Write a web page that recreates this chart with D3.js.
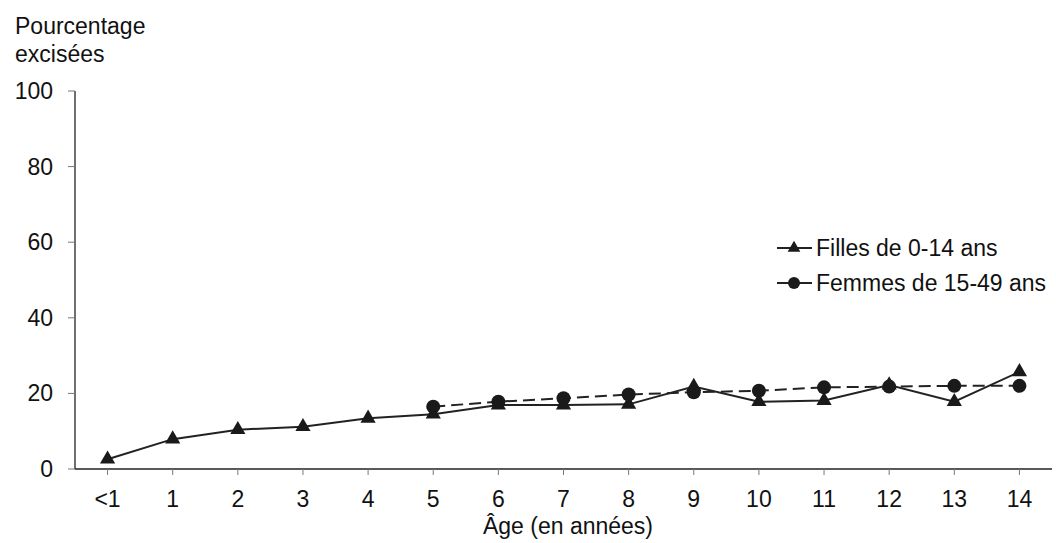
<!DOCTYPE html>
<html>
<head>
<meta charset="utf-8">
<script src="https://cdn.jsdelivr.net/npm/d3@7"></script>
<style>
  body { margin: 0; background: #fff; }
  text { font-family: "Liberation Sans", Arial, sans-serif; fill: #111; }
</style>
</head>
<body>
<svg id="chart" width="1056" height="543"></svg>
<script>
// data
var ages = ["<1", "1", "2", "3", "4", "5", "6", "7", "8", "9", "10", "11", "12", "13", "14"];
var filles = [2.6, 7.9, 10.4, 11.2, 13.4, 14.5, 16.9, 16.9, 17.1, 21.8, 17.8, 18.1, 22.2, 17.8, 25.7];
var femmes = [null, null, null, null, null, 16.5, 17.8, 18.7, 19.7, 20.3, 20.7, 21.6, 21.8, 22.0, 22.0];
var yTicks = [0, 20, 40, 60, 80, 100];

var fs = 23;
var svg = d3.select("#chart");

var x = d3.scaleBand().domain(ages).range([75, 1052]);
var y = d3.scaleLinear().domain([0, 100]).range([469, 91]);

function cx(d, i) { return x(ages[i]) + x.bandwidth() / 2; }

// y axis
svg.append("line")
  .attr("x1", 75).attr("x2", 75)
  .attr("y1", y(100)).attr("y2", y(0))
  .attr("stroke", "#222").attr("stroke-width", 1.3);

svg.selectAll(".ytick").data(yTicks).enter()
  .append("line")
  .attr("x1", 68).attr("x2", 75)
  .attr("y1", function(d) { return y(d); })
  .attr("y2", function(d) { return y(d); })
  .attr("stroke", "#777");

svg.selectAll(".ylab").data(yTicks).enter()
  .append("text")
  .attr("x", 53).attr("y", function(d) { return y(d); })
  .attr("dy", "0.35em")
  .attr("text-anchor", "end")
  .attr("font-size", fs)
  .text(function(d) { return d; });

// x axis
svg.append("line")
  .attr("x1", 75).attr("x2", 1052)
  .attr("y1", y(0)).attr("y2", y(0))
  .attr("stroke", "#222").attr("stroke-width", 1.3);

svg.selectAll(".xtick").data(ages).enter()
  .append("line")
  .attr("x1", cx).attr("x2", cx)
  .attr("y1", y(0)).attr("y2", y(0) + 6)
  .attr("stroke", "#777");

svg.selectAll(".xlab").data(ages).enter()
  .append("text")
  .attr("x", cx).attr("y", 507)
  .attr("text-anchor", "middle")
  .attr("font-size", fs)
  .text(function(d) { return d; });

svg.append("text")
  .attr("x", 568).attr("y", 534)
  .attr("text-anchor", "middle")
  .attr("font-size", fs)
  .text("Âge (en années)");

svg.append("text").attr("x", 15).attr("y", 34).attr("font-size", fs).text("Pourcentage");
svg.append("text").attr("x", 15).attr("y", 62).attr("font-size", fs).text("excisées");

// lines
var line = d3.line()
  .defined(function(d) { return d != null; })
  .x(cx)
  .y(function(d) { return y(d); });

svg.append("path").datum(femmes)
  .attr("d", line)
  .attr("fill", "none").attr("stroke", "#222")
  .attr("stroke-width", 2).attr("stroke-dasharray", "12,6");

svg.append("path").datum(filles)
  .attr("d", line)
  .attr("fill", "none").attr("stroke", "#222")
  .attr("stroke-width", 2);

var tri = d3.symbol().type(d3.symbolTriangle).size(100);

svg.selectAll(".tri").data(filles).enter()
  .append("path")
  .attr("d", tri)
  .attr("transform", function(d, i) { return "translate(" + cx(d, i) + "," + y(d) + ")"; })
  .attr("fill", "#1a1a1a");

svg.selectAll(".dot").data(femmes.map(function(d, i) { return {v: d, i: i}; })
    .filter(function(d) { return d.v != null; })).enter()
  .append("circle")
  .attr("cx", function(d) { return cx(d.v, d.i); })
  .attr("cy", function(d) { return y(d.v); })
  .attr("r", 7)
  .attr("fill", "#1a1a1a");

// legend
var legend = [
  {label: "Filles de 0-14 ans", kind: "tri", yPos: 248},
  {label: "Femmes de 15-49 ans", kind: "dot", yPos: 283}
];

legend.forEach(function(l) {
  svg.append("line")
    .attr("x1", 777).attr("x2", 812)
    .attr("y1", l.yPos).attr("y2", l.yPos)
    .attr("stroke", "#222").attr("stroke-width", 2);
  if (l.kind === "tri") {
    svg.append("path").attr("d", d3.symbol().type(d3.symbolTriangle).size(70))
      .attr("transform", "translate(794," + l.yPos + ")")
      .attr("fill", "#1a1a1a");
  } else {
    svg.append("circle").attr("cx", 794).attr("cy", l.yPos).attr("r", 6).attr("fill", "#1a1a1a");
  }
  svg.append("text")
    .attr("x", 816).attr("y", l.yPos)
    .attr("dy", "0.35em")
    .attr("font-size", fs)
    .text(l.label);
});
</script>
</body>
</html>
